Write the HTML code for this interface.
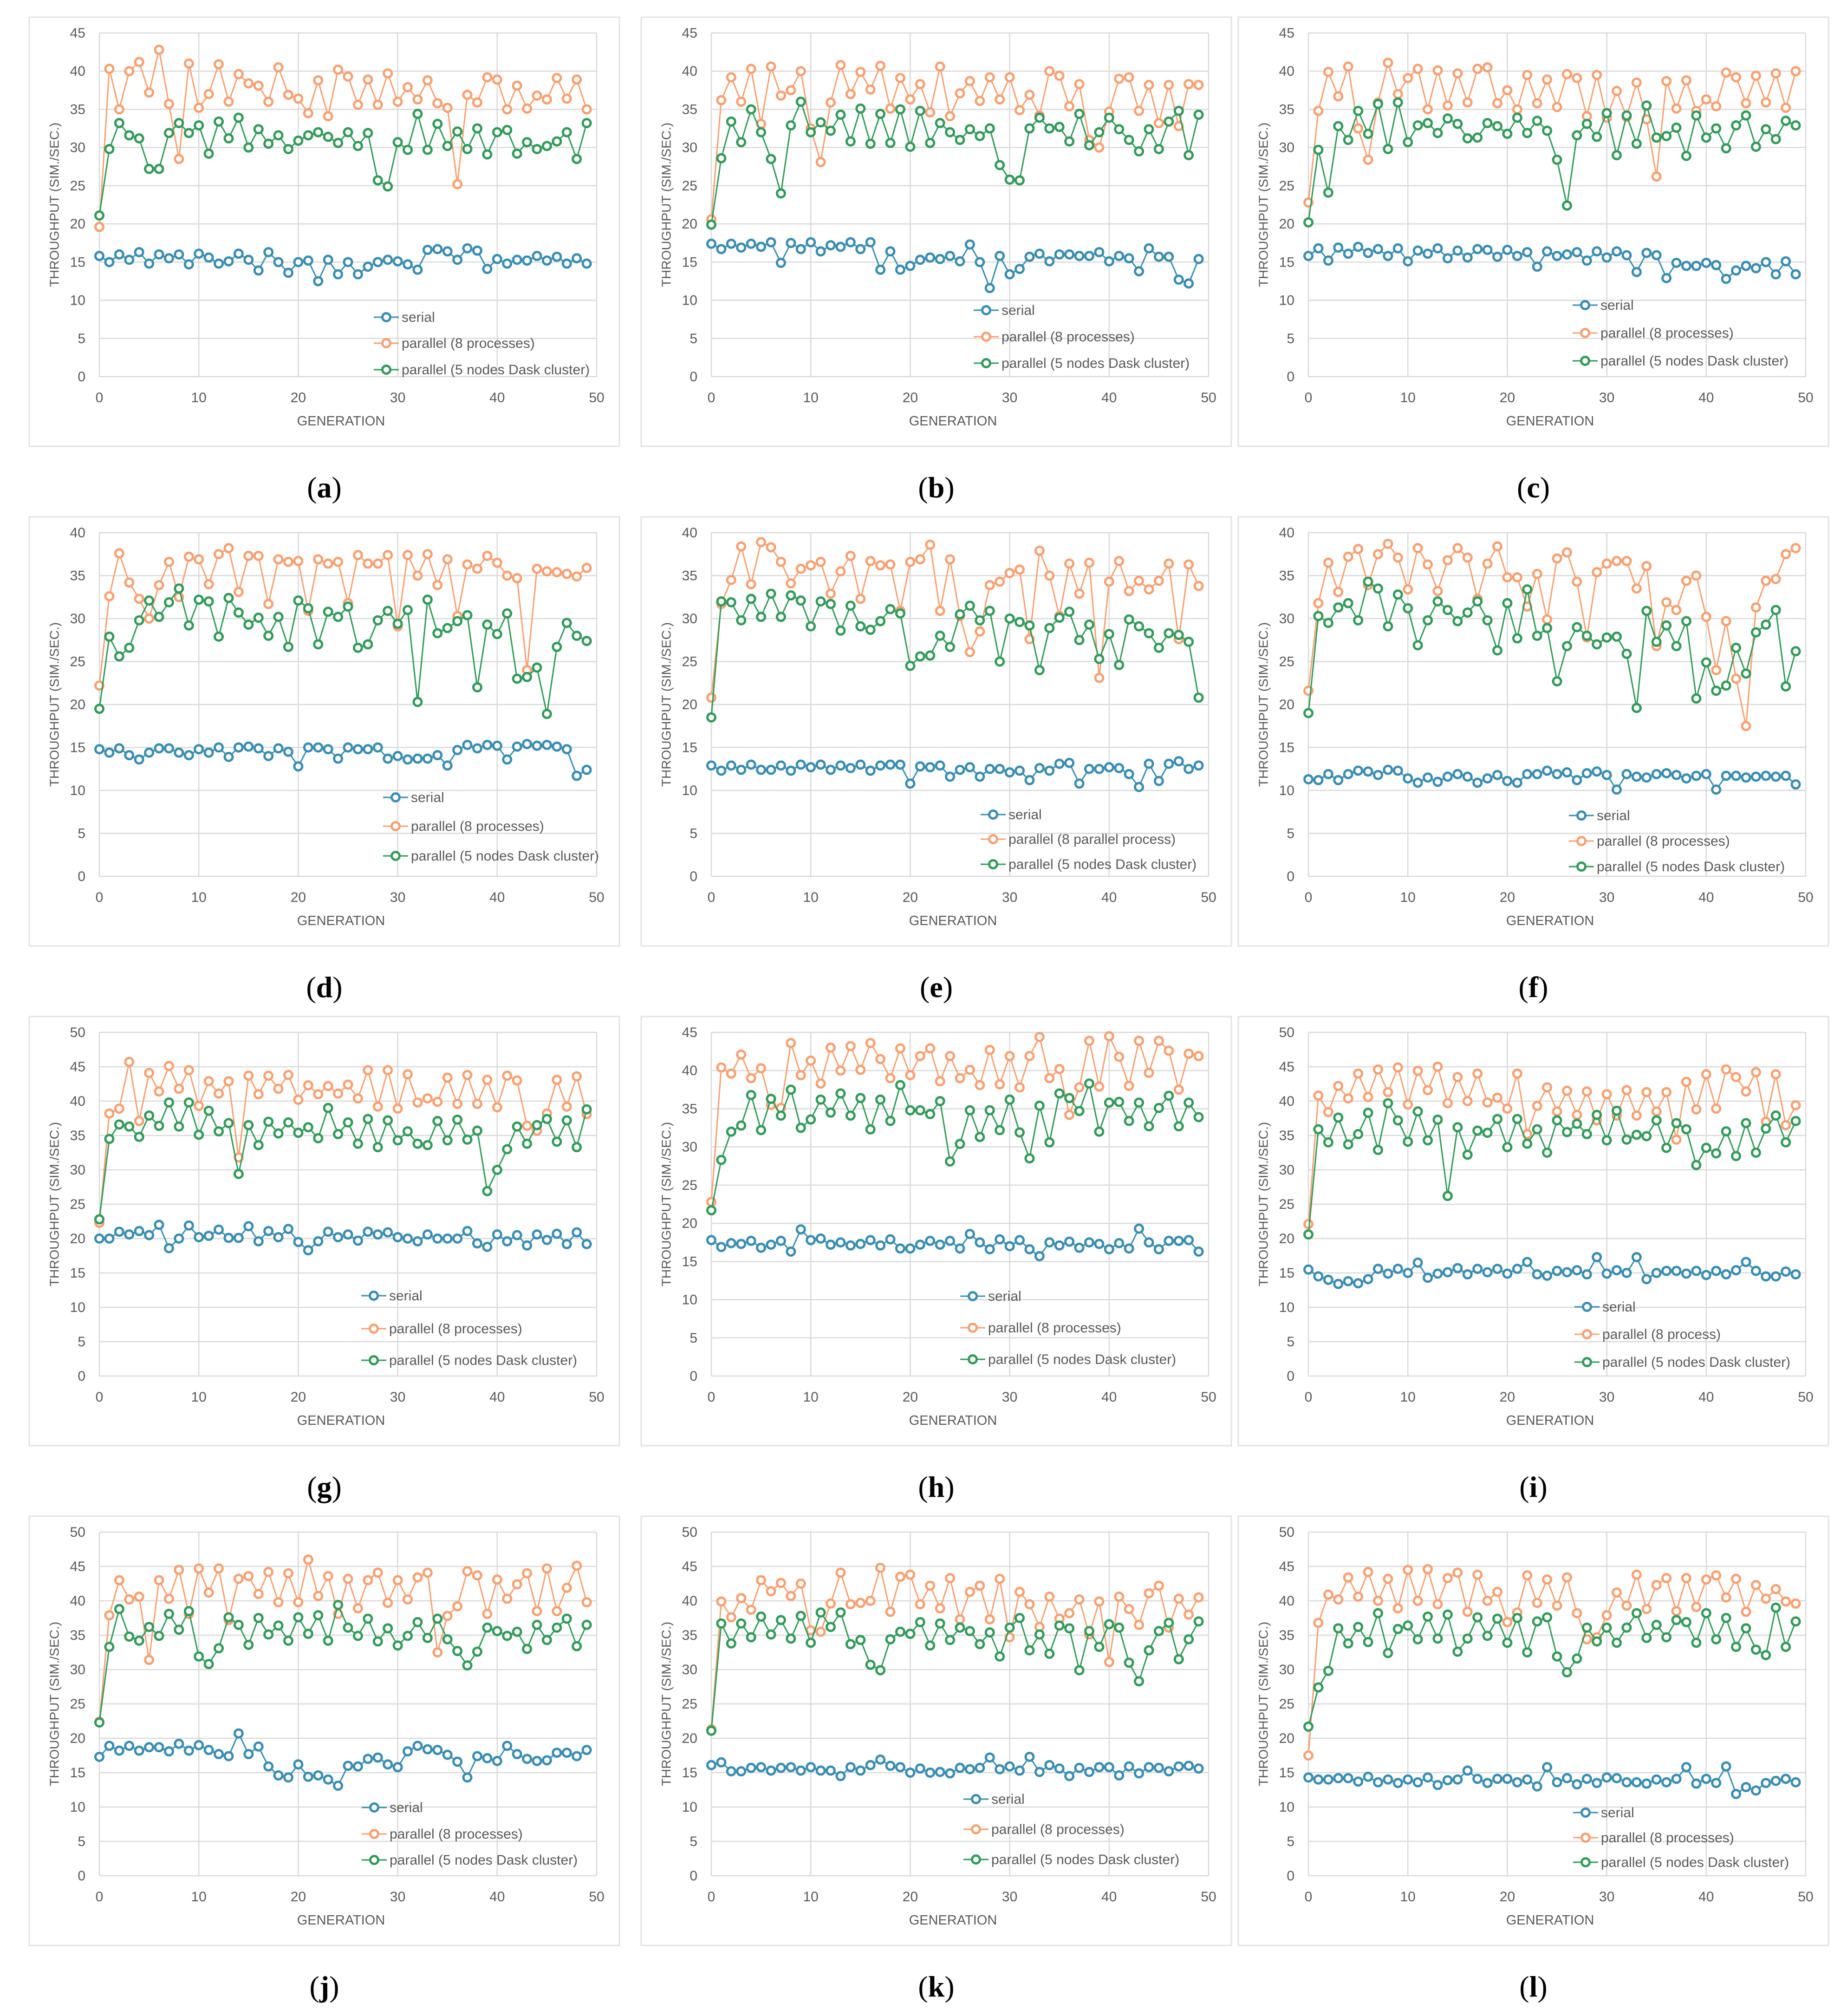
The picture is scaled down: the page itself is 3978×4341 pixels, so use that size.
<!DOCTYPE html>
<html><head><meta charset="utf-8">
<style>
html,body{margin:0;padding:0;background:#fff;}
svg{display:block;}
text{font-family:"Liberation Sans",sans-serif;}
</style></head>
<body>
<svg id="fig" xmlns="http://www.w3.org/2000/svg" width="3978" height="4341" viewBox="0 0 3978 4341"></svg>
<script>
const generations = Array.from({length:50},(_,i)=>i);
const xTicks = [0,10,20,30,40,50];
const panelLetters = ["a","b","c","d","e","f","g","h","i","j","k","l"];
const panelYMax = [45,45,45,40,40,40,50,45,50,50,50,50];
const seriesNames = ["serial","parallel (8 processes)","parallel (5 nodes Dask cluster)"];
const orangeLabels = ["parallel (8 processes)","parallel (8 processes)","parallel (8 processes)","parallel (8 processes)","parallel (8 parallel process)","parallel (8 processes)","parallel (8 processes)","parallel (8 processes)","parallel (8 process)","parallel (8 processes)","parallel (8 processes)","parallel (8 processes)"];

const serialA=[15.8,15,16,15.3,16.3,14.8,16,15.5,16,14.7,16.1,15.6,14.8,15.1,16.1,15.3,13.9,16.3,15,13.6,15,15.2,12.5,15.3,13.4,15,13.4,14.4,15,15.3,15.1,14.7,14,16.6,16.7,16.4,15.3,16.8,16.5,14.1,15.4,14.8,15.3,15.2,15.8,15.2,15.7,14.8,15.5,14.8];
const par8A=[19.6,40.3,35,40,41.2,37.2,42.8,35.7,28.5,41,35.2,37,40.9,36,39.6,38.4,38.1,36,40.5,36.9,36.4,34.5,38.8,34.1,40.2,39.3,35.6,38.9,35.6,39.7,36,37.9,36.3,38.8,35.8,35.2,25.2,36.9,35.9,39.2,38.9,35,38.1,35.1,36.8,36.3,39.1,36.4,38.9,35];
const daskA=[21.1,29.8,33.2,31.6,31.2,27.2,27.2,31.9,33.2,31.9,32.9,29.2,33.4,31.2,33.9,30,32.4,30.5,31.6,29.8,30.9,31.6,32,31.4,30.6,32,30.2,31.9,25.7,24.9,30.7,29.7,34.4,29.7,33.1,30.2,32.1,29.8,32.5,29.1,32,32.3,29.2,30.7,29.8,30.2,30.8,32,28.5,33.2];

const serialB=[17.4,16.7,17.4,16.9,17.4,17,17.6,14.9,17.5,16.7,17.6,16.4,17.2,17,17.6,16.7,17.6,14,16.4,14,14.5,15.3,15.6,15.4,15.8,15.1,17.3,15,11.6,15.8,13.4,14.1,15.7,16.1,15.1,16,16,15.8,15.8,16.3,15.1,15.8,15.5,13.8,16.8,15.7,15.7,12.7,12.2,15.4];
const par8B=[20.6,36.2,39.2,36,40.3,33.1,40.6,36.8,37.5,40,32.5,28.1,35.9,40.8,37,39.9,37.6,40.7,35.1,39.1,36.3,38.3,34.6,40.6,34.1,37.1,38.7,36.1,39.2,36.3,39.2,34.9,36.9,34.2,40,39.4,35.4,38.3,31,30,34.7,39,39.2,34.8,38.2,33.2,38.2,32.8,38.3,38.2];
const daskB=[19.9,28.6,33.4,30.7,35,32,28.5,24,32.9,36,32,33.3,32.2,34.3,30.8,35.1,30.5,34.4,30.6,35,30.1,34.8,30.6,33.2,32,31,32.4,31.5,32.5,27.7,25.8,25.7,32.5,33.9,32.5,32.7,30.8,34.4,30.3,32,33.9,32.4,31,29.5,32.4,29.8,33.4,34.8,29,34.3];

const serialC=[15.8,16.8,15.2,16.9,16.1,17,16.2,16.7,15.8,16.8,15.1,16.5,16.1,16.8,15.5,16.5,15.6,16.7,16.6,15.7,16.6,15.8,16.3,14.4,16.4,15.8,16,16.3,15.2,16.4,15.6,16.4,15.9,13.7,16.2,15.9,12.9,14.9,14.5,14.5,14.9,14.6,12.8,13.9,14.5,14.2,15,13.4,15.1,13.4];
const par8C=[22.8,34.8,39.9,36.7,40.6,32.5,28.4,35.9,41.1,37,39.1,40.3,35,40.1,35.5,39.7,35.9,40.3,40.5,35.8,37.5,35,39.5,35.8,38.9,35.3,39.6,39.1,34.1,39.5,33.9,37.4,34,38.5,33.7,26.2,38.7,35.1,38.8,34.8,36.3,35.4,39.8,39.2,35.8,39.4,35.9,39.7,35.2,40];
const daskC=[20.2,29.7,24.1,32.8,31,34.8,31.8,35.7,29.8,35.9,30.7,32.9,33.2,31.9,33.8,33.1,31.2,31.3,33.2,32.8,31.8,33.9,31.9,33.5,32.2,28.4,22.4,31.6,33.1,31.4,34.5,29,34.2,30.5,35.5,31.3,31.5,32.6,28.9,34.2,31.3,32.5,29.9,32.9,34.2,30.1,32.4,31.1,33.5,32.9];

const serialD=[14.8,14.4,14.9,14.1,13.6,14.4,14.9,14.9,14.4,14.1,14.8,14.4,15,13.9,15,15.1,14.9,14,14.9,14.5,12.8,15,15,14.8,13.7,15,14.8,14.8,15,13.7,14,13.6,13.7,13.7,14.1,12.9,14.7,15.3,14.9,15.3,15.2,13.6,15.1,15.4,15.2,15.3,15.1,14.8,11.7,12.4];
const par8D=[22.2,32.6,37.6,34.2,32.3,30,33.9,36.6,32.5,37.2,36.9,34,37.5,38.2,33.1,37.3,37.3,31.7,36.9,36.6,36.7,30.9,36.9,36.4,36.6,31.8,37.4,36.4,36.4,37.4,29.1,37.4,35,37.5,33.9,36.9,30.3,36.3,35.8,37.3,36.5,35,34.7,24,35.8,35.5,35.4,35.2,34.9,35.9];
const daskD=[19.5,27.9,25.6,26.6,29.8,32.1,30.2,31.9,33.5,29.2,32.2,32,27.9,32.4,30.7,29.3,30.1,28,30.2,26.7,32.1,31.2,27,30.8,30.2,31.4,26.6,27,29.8,30.9,29.4,31,20.3,32.2,28.3,28.9,29.7,30.4,22,29.3,28.2,30.6,23,23.2,24.3,18.9,26.7,29.5,28,27.4];

const serialE=[12.9,12.3,12.9,12.4,13,12.4,12.4,12.9,12.3,13,12.7,13,12.4,12.9,12.6,13,12.3,12.9,13,13,10.8,12.8,12.7,12.9,11.6,12.4,12.7,11.6,12.5,12.5,12.1,12.3,11.2,12.6,12.3,13.1,13.2,10.8,12.5,12.5,12.7,12.6,11.9,10.4,13.1,11.1,13.1,13.4,12.5,12.9];
const par8E=[20.8,31.7,34.5,38.4,34,38.9,38.3,36.6,34.1,35.8,36.2,36.6,32.9,35.5,37.3,32.3,36.7,36.2,36.3,30.9,36.6,36.9,38.6,30.9,36.9,30.3,26.1,28.5,33.9,34.3,35.3,35.7,27.6,37.9,35,30.3,36.4,32.9,36.5,23.1,34.3,36.7,33.2,34.4,33.4,34.4,36.4,27.6,36.3,33.8];
const daskE=[18.5,32,31.9,29.8,32.3,30.2,32.9,30.2,32.7,32.1,29.1,32,31.7,28.6,31.5,29.1,28.7,29.7,31.1,30.6,24.5,25.6,25.7,28,26.7,30.5,31.5,29.8,30.9,25,30,29.6,29.2,24,28.9,30.1,30.8,27.5,29.3,25.3,28.2,24.6,29.9,29.1,28.3,26.6,28.3,28.1,27.3,20.8];

const serialF=[11.3,11.2,11.9,11.2,11.9,12.3,12.2,11.8,12.4,12.3,11.4,10.9,11.5,11,11.6,11.9,11.6,10.9,11.4,11.8,11.1,10.9,11.9,11.9,12.3,11.9,12.1,11.2,12,12.2,11.8,10.1,11.9,11.6,11.5,11.9,12,11.8,11.4,11.7,11.9,10.1,11.7,11.7,11.5,11.6,11.7,11.6,11.7,10.7];
const par8F=[21.6,31.8,36.5,33.1,37.2,38.1,33.9,37.5,38.7,37.1,33.4,38.2,36.3,33.2,36.8,38.2,37.1,32.3,36.4,38.4,34.8,34.8,31.4,35.2,29.9,37,37.7,34.3,27.8,35.4,36.4,36.7,36.7,33.5,36.1,26.8,31.9,31,34.4,35,30.2,24,29.7,23,17.5,31.3,34.4,34.6,37.5,38.2];
const daskF=[19,30.3,29.5,31.3,31.8,29.8,34.3,33.5,29.1,32.8,31.2,26.9,29.8,32,31,29.7,30.7,32,29.8,26.3,31.8,27.7,33.4,28,28.9,22.7,26.8,29,28,27,27.8,27.9,25.9,19.6,30.9,27.3,29.2,26.8,29.7,20.7,24.9,21.6,22.2,26.6,23.6,28.4,29.3,31,22.1,26.2];

const serialG=[20,20,21,20.6,21.1,20.5,22,18.6,20,21.9,20.2,20.4,21.3,20.1,20.1,21.8,19.6,21.1,20.2,21.4,19.5,18.3,19.6,21,20.2,20.6,19.7,21,20.6,20.9,20.2,20,19.6,20.6,20,20,20,21.1,19.3,18.8,20.6,19.6,20.5,19,20.6,19.8,20.7,19.2,20.9,19.2];
const par8G=[22.3,38.2,38.9,45.7,37.1,44.1,41.4,45.1,41.8,44.5,39.3,42.9,41.1,42.9,31.8,43.7,41,43.7,41.8,43.8,40.2,42.3,41,42.2,41.1,42.4,40.4,44.5,39.2,44.5,38.9,43.9,39.8,40.4,39.9,43.4,39.6,43.8,39.6,43.1,39.1,43.7,43,36.4,35.7,38.2,43.1,39.2,43.6,38.1];
const daskG=[22.8,34.5,36.6,36.3,34.8,37.9,36.4,39.8,36.3,39.8,35.1,38.6,35.6,36.8,29.4,36.5,33.6,37,35.3,36.9,35.4,36.2,34.6,39,35.2,36.9,33.8,37.4,33.3,37.2,34.3,35.6,33.8,33.6,37.1,34.3,37.3,34.4,35.7,26.9,30,33,36.3,33.8,36.5,37.4,34.1,37.2,33.3,38.8];

const serialH=[17.8,16.9,17.4,17.3,17.7,16.8,17.2,17.7,16.3,19.2,17.8,18,17.2,17.5,17.1,17.3,17.8,17.1,17.9,16.7,16.7,17.2,17.7,17.2,17.7,16.7,18.6,17.5,16.6,17.9,17,17.8,16.6,15.7,17.5,17.1,17.6,16.8,17.5,17.3,16.6,17.4,16.7,19.3,17.5,16.6,17.7,17.7,17.8,16.3];
const par8H=[22.8,40.4,39.6,42.1,39,40.3,35.5,35.1,43.6,39.4,41.3,38.3,43,40,43.2,40.1,43.6,41.5,39,42.9,39.4,41.9,42.9,38.6,41.9,39,40.1,38.1,42.7,38.2,41.9,37.8,41.9,44.4,39,40.2,34.2,37.8,43.9,37.9,44.5,41.8,38,43.9,39.7,43.9,42.6,37.5,42.2,41.9];
const daskH=[21.7,28.3,32,32.8,36.8,32.2,36.3,34.1,37.5,32.5,33.6,36.2,34.5,37,34.1,36.4,32.3,36.2,33.4,38.1,34.8,34.8,34.3,36,28.1,30.4,34.8,31.3,34.8,32.2,36.2,31.9,28.5,35.4,30.6,37,36.4,34.7,38.3,32,35.8,35.9,33.4,35.8,32.7,35.1,36.7,32.7,35.8,33.9];

const serialI=[15.5,14.5,14,13.4,13.8,13.5,14.1,15.6,14.9,15.6,15,16.5,14.3,14.9,15.1,15.7,14.8,15.6,15.1,15.6,14.9,15.6,16.6,14.8,14.6,15.3,15.1,15.4,14.8,17.3,14.9,15.4,15,17.3,14.1,15,15.3,15.3,14.9,15.3,14.7,15.3,14.8,15.4,16.6,15.3,14.5,14.5,15.2,14.8];
const par8I=[22.1,40.8,38.4,42.2,40.4,44,40.6,44.6,41.3,44.9,39.5,44.4,41.6,45,39.7,43.5,40,44,39.8,40.5,38.9,44,35.2,39.3,42,38.5,41.5,38,41.4,37.2,41,37.9,41.6,37.9,41.3,38.5,41.3,34.4,42.8,38.8,43.9,38.9,44.6,43.5,41.4,44.2,37,43.9,36.5,39.4];
const daskI=[20.6,35.9,34,37.6,33.7,35.2,38.3,32.9,39.7,37.2,34.1,38.5,34.3,37.3,26.2,36.2,32.2,35.7,35.4,37.4,33.3,37.4,33.8,35.9,32.5,37.2,35.5,36.7,35.2,38,34.3,38.6,34.4,35.1,34.9,37.2,33.2,36.8,35.9,30.7,33.2,32.4,35.6,32,36.8,32.5,36,37.9,34,37.1];

const serialJ=[17.3,18.9,18.2,18.9,18.2,18.7,18.7,18.1,19.2,18.2,19,18.3,17.7,17.4,20.7,17.7,18.8,15.9,14.6,14.3,16.2,14.4,14.6,14,13.1,16,15.9,17,17.2,16.2,15.8,18.1,18.9,18.4,18.3,17.6,16.6,14.3,17.4,17.1,16.7,18.9,17.7,17,16.7,16.8,17.9,17.9,17.4,18.3];
const par8J=[22.4,37.9,43,40.2,40.6,31.4,43,40.3,44.5,38.1,44.7,41.2,44.7,37.2,43.2,43.6,41,44.2,39.8,44,39.8,46,40.7,43.6,38.1,43.2,38.9,43,44.1,39.7,43,40.2,43.4,44.1,32.5,37.8,39.2,44.3,43.7,38.1,43.1,40.3,42.4,44,38.5,44.7,38.5,41.9,45.1,39.8];
const daskJ=[22.3,33.3,38.8,34.8,34.2,36.2,34.9,38.1,35.8,38.5,31.9,30.8,33.1,37.6,36.5,33.6,37.5,35.1,36.4,34.2,37.6,35.2,37.9,34.2,39.4,36.1,34.9,37.4,34.1,36,33.5,34.9,36.9,34.6,37.4,34.4,32.7,30.6,32.6,36.1,35.6,34.9,35.5,33,36.5,34.3,36.1,37.4,33.4,36.5];

const serialK=[16.1,16.5,15.2,15.2,15.7,15.8,15.3,15.7,15.8,15.3,15.8,15.3,15.3,14.5,15.8,15.3,16.1,16.9,16,15.8,15,15.6,15,15.1,14.9,15.7,15.5,15.7,17.2,15.5,15.9,15.3,17.3,15.1,16.1,15.6,14.5,15.7,15.1,15.8,15.8,14.6,15.9,14.9,15.8,15.7,15.2,15.9,16,15.6];
const par8K=[21.3,39.9,37.6,40.4,38.7,43,41.4,42.6,40.7,42.5,35.7,35.5,39.6,44.1,39.5,39.7,40,44.8,38.4,43.5,43.8,39.5,42.2,38.9,43.3,37.3,41.3,42.2,37.3,43.2,34.7,41.3,39.5,36.2,40.6,37.4,38.2,40.2,35.1,39.9,31.1,40.6,38.8,36.5,41.1,42.2,36.1,40.3,38,40.5];
const daskK=[21.1,36.7,33.8,36.7,34.7,37.7,35.1,37.2,34.5,37.8,33.9,38.3,36.2,38.3,33.7,34.3,30.7,29.9,34.4,35.5,35.2,36.9,33.5,36.7,34.3,36.1,35.6,33.7,35.4,31.9,36.1,37.5,32.8,35.1,32.3,36.4,36,29.9,35.6,33.3,36.6,36.1,31,28.3,32.8,35.6,36.8,31.5,34.4,37];

const serialL=[14.3,14,14,14.2,14.2,13.7,14.4,13.6,14,13.5,14,13.6,14.3,13.2,13.9,14,15.3,14.1,13.5,14.1,14.1,13.6,14,13,15.8,13.6,14.2,13.3,14.1,13.5,14.3,14.2,13.6,13.6,13.4,14,13.6,14.1,15.8,13.4,14.1,13.5,15.9,11.9,12.9,12.4,13.5,13.8,14.1,13.6];
const par8L=[17.5,36.8,40.9,40.2,43.4,40.6,44.2,40,43.2,38.9,44.5,40,44.6,39.5,43.3,44.1,38.4,43.8,40,41.3,36.9,38.3,43.7,39.7,43.1,39.3,43.4,38.2,34.4,34.7,37.9,41.2,39.3,43.8,38.8,42.3,43.3,38.5,43.3,39.1,43.1,43.7,40.5,43.2,38.4,42.3,40.3,41.7,39.9,39.6];
const daskL=[21.7,27.4,29.8,36,33.8,36.2,34,38.2,32.4,35.9,36.4,34.4,37.7,34.5,38,32.6,34.5,37.6,34.9,37.4,33.9,37.5,32.5,37,37.6,31.9,29.6,31.6,36.1,34.1,36.1,33.9,36.1,38.2,34.6,36.5,34.7,37.2,36.9,33.9,38.2,34.4,37.5,33.3,36,32.9,32.1,39,33.3,37];

const serialAll=[serialA,serialB,serialC,serialD,serialE,serialF,serialG,serialH,serialI,serialJ,serialK,serialL];
const par8All=[par8A,par8B,par8C,par8D,par8E,par8F,par8G,par8H,par8I,par8J,par8K,par8L];
const daskAll=[daskA,daskB,daskC,daskD,daskE,daskF,daskG,daskH,daskI,daskJ,daskK,daskL];

// layout (not data)
const NS="http://www.w3.org/2000/svg";
const svg=document.getElementById('fig');
const colBox=[63,1381,2667], colPlot=[214,1532,2818];
const rowPlotTop=[71,1147,2223,3299];
const PW=1071, PH=740, BOXW=1271, BOXH=924, BOXOFF=34;
const legendOffX=[618,592,596,638,607,588,591,563,600,592,570,597];
const legendOffY=[[612,668,725],[597,654,711],[586,646,706],[570,632,696],[607,660,714],[609,664,719],[567,638,706],[568,636,704],[591,650,710],[593,650,706],[575,640,705],[604,658,711]];
const colors=["#3A8DB0","#F6A173","#339A5A"];

function mk(tag,attrs,parent){const e=document.createElementNS(NS,tag);for(const k in attrs)e.setAttribute(k,attrs[k]);(parent||svg).appendChild(e);return e;}

for(let p=0;p<12;p++){
  const r=Math.floor(p/3), c=p%3;
  const x0=colPlot[c], yTop=rowPlotTop[r], yBot=yTop+PH;
  const bx=colBox[c], by=yTop-BOXOFF;
  const ymax=panelYMax[p];
  const X=v=>x0+v/50*PW;
  const Y=v=>yBot-v/ymax*PH;
  const g=mk('g',{});
  
  
  const box=mk('rect',{x:bx,y:by,width:BOXW,height:BOXH,fill:'#fff',stroke:'#e3e3e3','stroke-width':3},g);
  
  
  for(let v=0;v<=ymax;v+=5){
    const ln=mk('line',{x1:x0,x2:x0+PW,y1:Y(v),y2:Y(v),stroke:'#d9d9d9','stroke-width':2.5},g);
    
    
    const t=mk('text',{x:x0-30,y:Y(v)+10,'text-anchor':'end','font-size':30,fill:'#595959'},g);
    t.textContent=v;
    
    
  }
  for(const v of xTicks){
    const ln=mk('line',{x1:X(v),x2:X(v),y1:yTop,y2:yBot,stroke:'#d9d9d9','stroke-width':2.5},g);
    
    
    const t=mk('text',{x:X(v),y:yBot+55,'text-anchor':'middle','font-size':30,fill:'#595959'},g);
    t.textContent=v;
    
    
  }
  const xt=mk('text',{x:x0+PW/2-15,y:yBot+105,'text-anchor':'middle','font-size':29,fill:'#595959'},g);
  xt.textContent='GENERATION';
  
  
  const yc=yTop+PH/2;
  const yt=mk('text',{x:x0-95,y:yc,'text-anchor':'middle','font-size':28,fill:'#595959',transform:`rotate(-90 ${x0-95} ${yc})`,'dominant-baseline':'middle'},g);
  yt.textContent='THROUGHPUT (SIM./SEC.)';
  
  
  const sets=[serialAll[p],par8All[p],daskAll[p]];
  const snames=['serial-series','parallel-8-series','dask-series'];
  for(let s=0;s<3;s++){
    const data=sets[s];
    const sg=mk('g',{},g);
    
    
    const pts=data.map((v,i)=>X(generations[i]).toFixed(1)+','+Y(v).toFixed(1)).join(' ');
    const pl=mk('polyline',{points:pts,fill:'none',stroke:colors[s],'stroke-width':3},sg);
    
    
    data.forEach((v,i)=>{
      const ci=mk('circle',{cx:X(generations[i]),cy:Y(v),r:8.5,fill:'#fff',stroke:colors[s],'stroke-width':5},sg);
      
      
    });
  }
  const labels=[seriesNames[0],orangeLabels[p],seriesNames[2]];
  for(let s=0;s<3;s++){
    const lx=x0+legendOffX[p], ly=yTop+legendOffY[p][s];
    const lg=mk('g',{},g);
    
    
    mk('line',{x1:lx-27,x2:lx+27,y1:ly,y2:ly,stroke:colors[s],'stroke-width':3},lg);
    mk('circle',{cx:lx,cy:ly,r:8.5,fill:'#fff',stroke:colors[s],'stroke-width':5},lg);
    const t=mk('text',{x:lx+33,y:ly+10,'font-size':30,fill:'#595959'},lg);
    t.textContent=labels[s];
  }
  const cap=mk('text',{x:bx+BOXW/2,y:yTop+1000,'text-anchor':'middle','font-size':64,fill:'#000',style:'font-family:"Liberation Serif",serif'},g);
  cap.innerHTML='(<tspan font-weight="bold">'+panelLetters[p]+'</tspan>)';
  
  
}
</script>
</body></html>
